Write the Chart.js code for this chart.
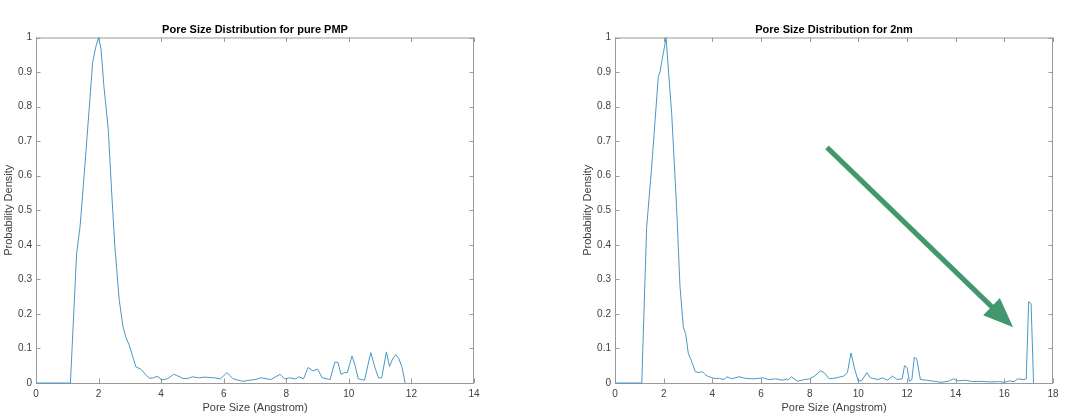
<!DOCTYPE html>
<html>
<head>
<meta charset="utf-8">
<script src="https://cdn.jsdelivr.net/npm/chart.js@4.4.1/dist/chart.umd.min.js"></script>
<style>
body { margin: 0; background: #fff; width: 1074px; height: 419px; overflow: hidden; position: relative; }
canvas { position: absolute; top: 0; }
</style>
</head>
<body>
<canvas id="pmpChart" width="540" height="419" style="left:0"></canvas>
<canvas id="nmChart" width="495" height="419" style="left:579px"></canvas>
<script>
// pure PMP
const pmpSize = [0, 1.1, 1.3, 1.41, 1.57, 1.73, 1.81, 1.92, 2.0, 2.08,
    2.17, 2.31, 2.42, 2.52, 2.66, 2.78, 2.88, 2.98, 3.08, 3.19,
    3.35, 3.5, 3.62, 3.72, 3.83, 3.92, 4.0, 4.2, 4.4, 4.5,
    4.7, 4.85, 5.0, 5.2, 5.4, 5.7, 5.9, 6.1, 6.3, 6.6,
    7.0, 7.2, 7.5, 7.8, 7.95, 8.1, 8.3, 8.4, 8.55, 8.7,
    8.85, 9.0, 9.15, 9.4, 9.55, 9.65, 9.75, 9.85, 9.95, 10.1,
    10.2, 10.3, 10.5, 10.7, 10.85, 10.95, 11.05, 11.2, 11.3, 11.4,
    11.5, 11.6, 11.7, 11.8];
const pmpDensity = [0, 0, 0.377, 0.454, 0.638, 0.83, 0.928, 0.976, 1.0, 0.966,
    0.86, 0.734, 0.55, 0.396, 0.24, 0.164, 0.13, 0.11, 0.08, 0.047,
    0.04, 0.025, 0.014, 0.014, 0.018, 0.018, 0.009, 0.012, 0.025, 0.022,
    0.013, 0.013, 0.018, 0.015, 0.017, 0.015, 0.012, 0.03, 0.012, 0.005,
    0.01, 0.015, 0.01, 0.025, 0.012, 0.015, 0.012, 0.018, 0.012, 0.045,
    0.035, 0.04, 0.015, 0.01, 0.06, 0.06, 0.025, 0.03, 0.03, 0.078,
    0.05, 0.012, 0.008, 0.088, 0.04, 0.015, 0.015, 0.09, 0.048, 0.07,
    0.082, 0.07, 0.045, 0];

// 2nm
const nmSize = [0, 1.1, 1.3, 1.5, 1.78, 1.85, 1.92, 2.0, 2.1, 2.2,
    2.33, 2.53, 2.67, 2.81, 2.9, 3.01, 3.11, 3.3, 3.45, 3.59,
    3.7, 3.8, 3.95, 4.07, 4.3, 4.48, 4.6, 4.8, 5.1, 5.4,
    5.7, 6.1, 6.3, 6.6, 6.9, 7.05, 7.1, 7.25, 7.5, 7.8,
    8.0, 8.2, 8.45, 8.6, 8.8, 9.1, 9.4, 9.55, 9.7, 9.85,
    10.0, 10.15, 10.35, 10.5, 10.8, 11.0, 11.2, 11.4, 11.6, 11.8,
    11.9, 12.0, 12.1, 12.2, 12.3, 12.4, 12.55, 12.8, 13.1, 13.4,
    13.7, 13.9, 14.1, 14.4, 14.7, 15.0, 15.4, 15.8, 16.0, 16.2,
    16.4, 16.55, 16.8, 16.9, 17.0, 17.1, 17.2];
const nmDensity = [0, 0, 0.45, 0.62, 0.887, 0.9, 0.93, 0.96, 1.0, 0.9,
    0.78, 0.51, 0.28, 0.16, 0.144, 0.087, 0.07, 0.033, 0.03, 0.033,
    0.025, 0.02, 0.016, 0.0135, 0.013, 0.01, 0.018, 0.012, 0.018, 0.013,
    0.012, 0.015, 0.01, 0.012, 0.008, 0.012, 0.008, 0.018, 0.005, 0.01,
    0.012, 0.02, 0.035, 0.03, 0.012, 0.015, 0.02, 0.03, 0.087, 0.04,
    0.005, 0.008, 0.03, 0.015, 0.01, 0.015, 0.008, 0.02, 0.01, 0.012,
    0.05, 0.045, 0.005, 0.01, 0.074, 0.07, 0.01, 0.008, 0.005, 0.002,
    0.005, 0.012, 0.006, 0.008, 0.004, 0.005, 0.003, 0.004, 0.002, 0.006,
    0.004, 0.012, 0.01, 0.012, 0.235, 0.23, 0];

const pmpXTicks = [0, 2, 4, 6, 8, 10, 12, 14];
const nmXTicks = [0, 2, 4, 6, 8, 10, 12, 14, 16, 18];
const yTicks = [0, 0.1, 0.2, 0.3, 0.4, 0.5, 0.6, 0.7, 0.8, 0.9, 1];

// arrow in data units: tail, head
const arrowFrom = [8.71, 0.682];
const arrowTo = [16.36, 0.161];

const lineColor = 'rgb(72, 152, 196)';
const boxColor = '#9a9a9a';
const textColor = '#404040';
const font = 'Helvetica, "Liberation Sans", Arial, sans-serif';

// MATLAB-like box with inward ticks on all sides
const boxPlugin = {
    id: 'box',
    beforeDatasetsDraw(chart) {
        const {ctx, chartArea: a, scales} = chart;
        const len = 4.5;
        ctx.save();
        ctx.strokeStyle = boxColor;
        ctx.lineWidth = 1;
        ctx.strokeRect(a.left + 0.5, a.top + 0.5, a.right - a.left - 1, a.bottom - a.top);
        ctx.beginPath();
        for (const t of scales.x.ticks) {
            const px = Math.round(scales.x.getPixelForValue(t.value)) + 0.5;
            ctx.moveTo(px, a.bottom); ctx.lineTo(px, a.bottom - len);
            ctx.moveTo(px, a.top); ctx.lineTo(px, a.top + len);
        }
        for (const t of scales.y.ticks) {
            const py = Math.round(scales.y.getPixelForValue(t.value)) + 0.5;
            ctx.moveTo(a.left, py); ctx.lineTo(a.left + len, py);
            ctx.moveTo(a.right, py); ctx.lineTo(a.right - len, py);
        }
        ctx.stroke();
        ctx.restore();
    }
};

const arrowPlugin = {
    id: 'arrow',
    afterDatasetsDraw(chart) {
        const {ctx, scales: {x, y}} = chart;
        const x1 = x.getPixelForValue(arrowFrom[0]), y1 = y.getPixelForValue(arrowFrom[1]);
        const x2 = x.getPixelForValue(arrowTo[0]), y2 = y.getPixelForValue(arrowTo[1]);
        const ang = Math.atan2(y2 - y1, x2 - x1);
        const headLen = 30, headW = 12;
        const bx = x2 - headLen * Math.cos(ang), by = y2 - headLen * Math.sin(ang);
        ctx.save();
        ctx.strokeStyle = 'rgb(66, 152, 108)';
        ctx.fillStyle = 'rgb(66, 152, 108)';
        ctx.lineWidth = 5;
        ctx.beginPath();
        ctx.moveTo(x1, y1);
        ctx.lineTo(bx + 2 * Math.cos(ang), by + 2 * Math.sin(ang));
        ctx.stroke();
        ctx.beginPath();
        ctx.moveTo(x2, y2);
        ctx.lineTo(bx + headW * Math.sin(ang), by - headW * Math.cos(ang));
        ctx.lineTo(bx - headW * Math.sin(ang), by + headW * Math.cos(ang));
        ctx.closePath();
        ctx.fill();
        ctx.restore();
    }
};

function makeChart(id, title, sizes, density, xTicks, padRight, extra) {
    const points = sizes.map((s, i) => ({x: s, y: density[i]}));
    return new Chart(document.getElementById(id), {
        type: 'line',
        data: {
            datasets: [{
                data: points,
                borderColor: lineColor,
                borderWidth: 1,
                pointRadius: 0,
                tension: 0,
                clip: 4
            }]
        },
        options: {
            responsive: false,
            animation: false,
            layout: { padding: {left: 0, right: padRight, top: 0, bottom: 0} },
            plugins: {
                legend: { display: false },
                tooltip: { enabled: false },
                title: {
                    display: true,
                    text: title,
                    fullSize: false,
                    color: '#000',
                    font: { family: font, size: 11, weight: 'bold' },
                    padding: { top: 23, bottom: 1.3 }
                }
            },
            scales: {
                x: {
                    type: 'linear',
                    min: xTicks[0],
                    max: xTicks[xTicks.length - 1],
                    afterBuildTicks: s => { s.ticks = xTicks.map(v => ({value: v})); },
                    afterFit: s => { s.height = 36; },
                    grid: { display: false, drawTicks: false },
                    border: { display: false },
                    ticks: { color: textColor, padding: 5, font: { family: font, size: 10 }, maxRotation: 0,
                        callback: v => String(v) },
                    title: {
                        display: true,
                        text: 'Pore Size (Angstrom)',
                        color: textColor,
                        font: { family: font, size: 11 },
                        padding: { top: 0, bottom: 4 }
                    }
                },
                y: {
                    min: 0,
                    max: 1,
                    afterBuildTicks: s => { s.ticks = yTicks.map(v => ({value: v})); },
                    afterFit: s => { s.width = 36; },
                    grid: { display: false, drawTicks: false },
                    border: { display: false },
                    ticks: { color: textColor, padding: 4, font: { family: font, size: 10 },
                        callback: v => String(v) },
                    title: {
                        display: true,
                        text: 'Probability Density',
                        color: textColor,
                        font: { family: font, size: 11 },
                        padding: { top: 2, bottom: 0 }
                    }
                }
            }
        },
        plugins: [boxPlugin].concat(extra)
    });
}

makeChart('pmpChart', 'Pore Size Distribution for pure PMP', pmpSize, pmpDensity, pmpXTicks, 66, []);
makeChart('nmChart', 'Pore Size Distribution for 2nm', nmSize, nmDensity, nmXTicks, 21, [arrowPlugin]);
</script>
</body>
</html>
